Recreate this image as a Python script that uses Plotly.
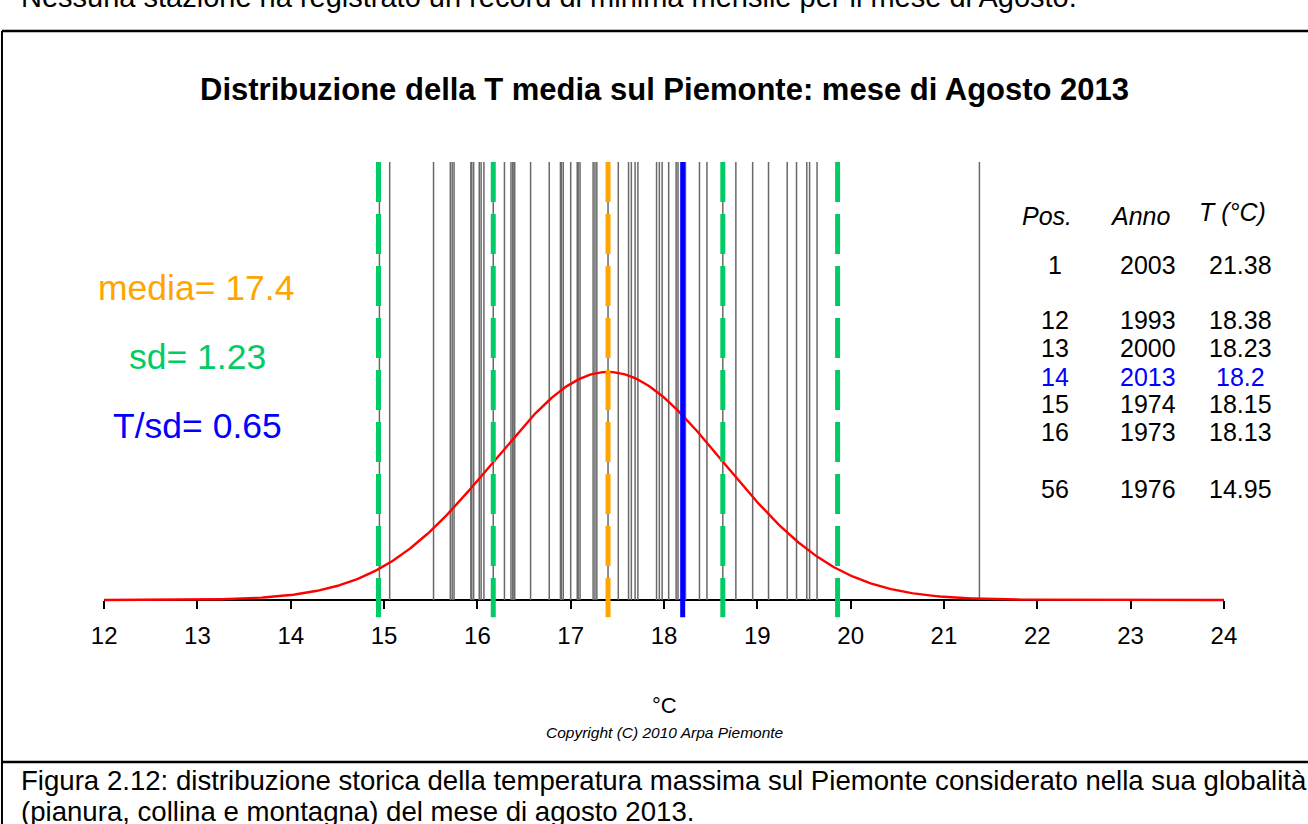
import numpy as np
import plotly.graph_objects as go

# Mean August temperature in Piemonte, one value per year (degC)
anni_t = [
    14.95, 15.06, 15.53, 15.71, 15.73, 15.75, 15.93, 15.94, 15.96, 16.02,
    16.04, 16.07, 16.17, 16.29, 16.36, 16.38, 16.38, 16.40, 16.57, 16.77,
    16.89, 16.90, 16.92, 17.00, 17.07, 17.08, 17.10, 17.24, 17.26, 17.28,
    17.40, 17.51, 17.62, 17.65, 17.69, 17.72, 17.92, 17.95, 17.98, 18.05,
    18.13, 18.15, 18.20, 18.23, 18.38, 18.46, 18.63, 18.77, 18.95, 19.12,
    19.32, 19.42, 19.53, 19.56, 19.64, 21.38,
]

media = 17.4
sd = 1.23
t_2013 = 18.2
t_sd = 0.65

# Ranking table
tab_pos = ["1", "12", "13", "14", "15", "16", "56"]
tab_anno = ["2003", "1993", "2000", "2013", "1974", "1973", "1976"]
tab_t = ["21.38", "18.38", "18.23", "18.2", "18.15", "18.13", "14.95"]
tab_y_px = [265, 320, 348, 377, 404, 432, 489]
tab_hilite = "2013"

x_ticks = list(range(12, 25))

W, H = 1308, 824
PAPER_X0, PAPER_W = 14, 1280    # horizontal extent of the drawing area on the page
Y_LO, Y_HI = -0.037, 0.623      # density units of the y axis
Y_EXT = -0.0245                 # reference lines reach slightly below the axis


def py(px):
    """Pixel row -> paper fraction."""
    return 1 - px / H


def pxf(px):
    """Pixel column -> paper fraction."""
    return (px - PAPER_X0) / PAPER_W


GREY = "rgb(105,105,105)"
GREEN = "#00CC66"
ORANGE = "#FFA500"
BLUE = "#0000FF"
RED = "#FF0000"
FONT = "Liberation Sans, Arial, sans-serif"

fig = go.Figure()

# yearly values as vertical segments
gx, gy = [], []
for v in anni_t:
    gx += [v, v, None]
    gy += [0, Y_HI, None]
fig.add_trace(go.Scatter(x=gx, y=gy, mode="lines",
                         line=dict(color=GREY, width=1.5),
                         hoverinfo="skip", showlegend=False))

# normal density
xc = np.linspace(x_ticks[0], x_ticks[-1], 600)
yc = np.exp(-0.5 * ((xc - media) / sd) ** 2) / (sd * np.sqrt(2 * np.pi))
fig.add_trace(go.Scatter(x=xc, y=yc, mode="lines",
                         line=dict(color=RED, width=2.4),
                         hoverinfo="skip", showlegend=False))

# mean +/- 1 and 2 standard deviations
for k in (-2, -1, 1, 2):
    xv = media + k * sd
    fig.add_trace(go.Scatter(x=[xv, xv], y=[Y_HI, Y_EXT], mode="lines",
                             line=dict(color=GREEN, width=5, dash="40px,12px"),
                             hoverinfo="skip", showlegend=False))

# mean
fig.add_trace(go.Scatter(x=[media, media], y=[Y_HI, Y_EXT], mode="lines",
                         line=dict(color=ORANGE, width=5, dash="40px,12px"),
                         hoverinfo="skip", showlegend=False))

# current year
fig.add_trace(go.Scatter(x=[t_2013, t_2013], y=[Y_HI, Y_EXT], mode="lines",
                         line=dict(color=BLUE, width=5),
                         hoverinfo="skip", showlegend=False))

ann = []


def text(x, ypx, s, size, color="black", bold=False, italic=False,
         xanchor="center"):
    if bold:
        s = "<b>" + s + "</b>"
    if italic:
        s = "<i>" + s + "</i>"
    ann.append(dict(x=pxf(x), y=py(ypx), xref="paper", yref="paper", text=s,
                    showarrow=False, xanchor=xanchor, yanchor="middle",
                    font=dict(family=FONT, size=size, color=color)))


text(20, -3, "Nessuna stazione ha registrato un record di minima mensile per il mese di Agosto.",
     29, xanchor="left")
text(664, 90, "Distribuzione della T media sul Piemonte: mese di Agosto 2013", 31, bold=True)

text(197, 288, f"media= {media}", 35.5, color=ORANGE)
text(198, 357, f"sd= {sd}", 35.5, color=GREEN)
text(198, 426, f"T/sd= {t_sd}", 35.5, color=BLUE)

text(1046, 216, "Pos.", 25, italic=True)
text(1139, 216, "Anno", 25, italic=True)
text(1232, 212, "T (°C)", 25, italic=True)
for p, a, t, ypx in zip(tab_pos, tab_anno, tab_t, tab_y_px):
    c = BLUE if a == tab_hilite else "black"
    text(1054, ypx, p, 25, color=c)
    text(1147, ypx, a, 25, color=c)
    text(1240, ypx, t, 25, color=c)

text(664, 705, "°C", 22)
text(665, 732, "Copyright (C) 2010 Arpa Piemonte", 15.5, italic=True)

text(20, 780, "Figura 2.12: distribuzione storica della temperatura massima sul Piemonte considerato nella sua globalità",
     27.6, xanchor="left")
text(20, 811, "(pianura, collina e montagna) del mese di agosto 2013.", 27.6, xanchor="left")

# page frame around the figure and the caption cell
shapes = [
    dict(type="line", xref="paper", yref="paper", x0=pxf(3), x1=pxf(1320),
         y0=py(31), y1=py(31), line=dict(color="black", width=2.5)),
    dict(type="line", xref="paper", yref="paper", x0=pxf(3), x1=pxf(1320),
         y0=py(762), y1=py(762), line=dict(color="black", width=2.5)),
    dict(type="line", xref="paper", yref="paper", x0=pxf(3), x1=pxf(3),
         y0=py(31), y1=-0.01, line=dict(color="black", width=2)),
]

fig.update_layout(
    width=W, height=H, autosize=False,
    margin=dict(l=0, r=0, t=0, b=0, pad=0),
    paper_bgcolor="white", plot_bgcolor="white",
    showlegend=False,
    annotations=ann, shapes=shapes,
    xaxis=dict(range=[x_ticks[0], x_ticks[-1]],
               domain=[pxf(105), pxf(1223)],
               anchor="free", position=py(600),
               tickvals=x_ticks, ticktext=[str(t) for t in x_ticks],
               ticks="outside", ticklen=8, tickwidth=2, tickcolor="black",
               ticklabelstandoff=6,
               showline=True, linecolor="black", linewidth=2,
               showgrid=False, zeroline=False, layer="below traces",
               tickfont=dict(family=FONT, size=24, color="black")),
    yaxis=dict(range=[Y_LO, Y_HI], domain=[py(626), py(162)],
               visible=False, showgrid=False, zeroline=False),
)

fig.write_html("out.html", config={"responsive": False})
